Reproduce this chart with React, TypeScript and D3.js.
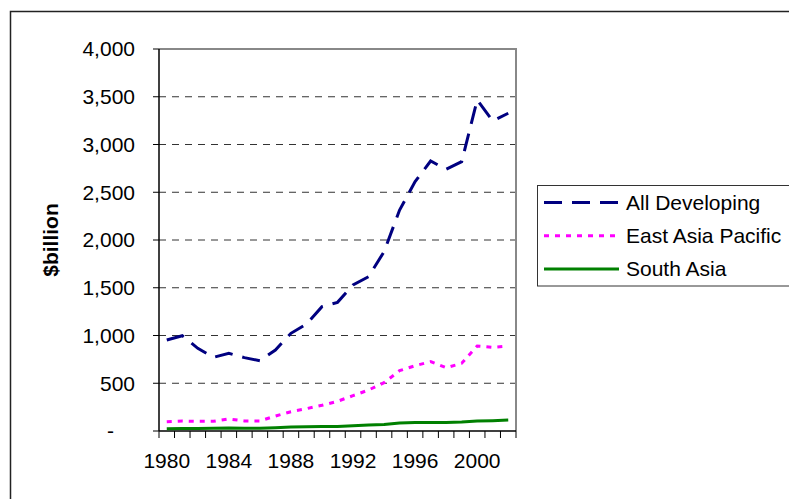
import React from "react";
import * as d3 from "d3";

const years = d3.range(1980, 2003);
const labelYears = [1980, 1984, 1988, 1992, 1996, 2000];
const yTicks = [0, 500, 1000, 1500, 2000, 2500, 3000, 3500, 4000];

const allDeveloping = [
  953, 998, 866, 771, 813, 768, 736, 848, 1023, 1120, 1302, 1347, 1529, 1616,
  1878, 2314, 2611, 2827, 2740, 2820, 3466, 3246, 3327,
];
const eastAsiaPacific = [
  98, 105, 101, 101, 126, 105, 105, 157, 202, 234, 269, 311, 370, 429, 506,
  632, 684, 726, 663, 709, 890, 876, 890,
];
const southAsia = [
  24, 27, 27, 28, 31, 28, 29, 35, 41, 45, 48, 48, 55, 62, 69, 85, 90, 90, 90,
  94, 104, 108, 115,
];

const series = [
  { name: "All Developing", values: allDeveloping, color: "#000080", dash: "18,10" },
  { name: "East Asia Pacific", values: eastAsiaPacific, color: "#FF00FF", dash: "5,6" },
  { name: "South Asia", values: southAsia, color: "#008000", dash: null },
];

const W = 789;
const H = 499;
const plot = { left: 159, right: 516, top: 49, bottom: 431 };
const font = "Arial, 'Liberation Sans', sans-serif";

export default function App() {
  const x = d3
    .scaleBand<number>()
    .domain(years)
    .range([plot.left, plot.right])
    .padding(0);
  const y = d3.scaleLinear().domain([0, 4000]).range([plot.bottom, plot.top]);
  const cx = (yr: number) => (x(yr) as number) + x.bandwidth() / 2;

  const line = (vals: number[]) =>
    d3
      .line<number>()
      .x((_, i) => cx(years[i]))
      .y((d) => y(d))(vals) as string;

  // tick boundaries between categories
  const bounds = years.map((yr) => x(yr) as number).concat([plot.right]);

  return (
    <svg
      width={W}
      height={H}
      style={{ position: "absolute", left: 0, top: 0, background: "#fff" }}
      fontFamily={font}
    >
      {/* outer frame */}
      <path d={`M10.5,${H} V11.5 H${W}`} fill="none" stroke="#222" strokeWidth={1.5} />

      {/* gridlines */}
      {yTicks
        .filter((t) => t > 0 && t < 4000)
        .map((t) => (
          <line
            key={t}
            x1={plot.left}
            x2={plot.right}
            y1={y(t)}
            y2={y(t)}
            stroke="#333"
            strokeDasharray="7,6"
          />
        ))}

      {/* plot border top/right */}
      <path
        d={`M${plot.left},${plot.top} H${plot.right} V${plot.bottom}`}
        fill="none"
        stroke="#888"
        strokeWidth={2}
      />

      {/* axes */}
      <line x1={plot.left} x2={plot.left} y1={plot.top} y2={plot.bottom} stroke="#000" strokeWidth={1.5} />
      <line x1={plot.left} x2={plot.right} y1={plot.bottom} y2={plot.bottom} stroke="#000" strokeWidth={1.5} />
      {yTicks.map((t) => (
        <g key={t}>
          <line x1={plot.left - 6} x2={plot.left} y1={y(t)} y2={y(t)} stroke="#000" />
          <text
            x={t === 0 ? 114 : 135}
            y={y(t)}
            dy="0.35em"
            textAnchor="end"
            fontSize={21}
          >
            {t === 0 ? "-" : d3.format(",")(t)}
          </text>
        </g>
      ))}
      {bounds.map((b, i) => (
        <line key={i} x1={b} x2={b} y1={plot.bottom} y2={plot.bottom + 7} stroke="#000" />
      ))}
      {labelYears.map((yr) => (
        <text key={yr} x={cx(yr)} y={468} textAnchor="middle" fontSize={21}>
          {yr}
        </text>
      ))}

      <text
        transform={`translate(58,240) rotate(-90)`}
        textAnchor="middle"
        fontSize={21}
        fontWeight="bold"
      >
        $billion
      </text>

      {/* series */}
      {series.map((s) => (
        <path
          key={s.name}
          d={line(s.values)}
          fill="none"
          stroke={s.color}
          strokeWidth={3}
          strokeDasharray={s.dash ?? undefined}
        />
      ))}

      {/* legend */}
      <rect x={537.5} y={185.5} width={W} height={100.5} fill="#fff" stroke="#333" />
      {series.map((s, i) => {
        const ly = 202.5 + i * 33.3;
        return (
          <g key={s.name}>
            <line
              x1={544}
              x2={619}
              y1={ly}
              y2={ly}
              stroke={s.color}
              strokeWidth={3}
              strokeDasharray={s.dash ?? undefined}
            />
            <text x={626} y={ly} dy="0.35em" fontSize={21}>
              {s.name}
            </text>
          </g>
        );
      })}
    </svg>
  );
}
